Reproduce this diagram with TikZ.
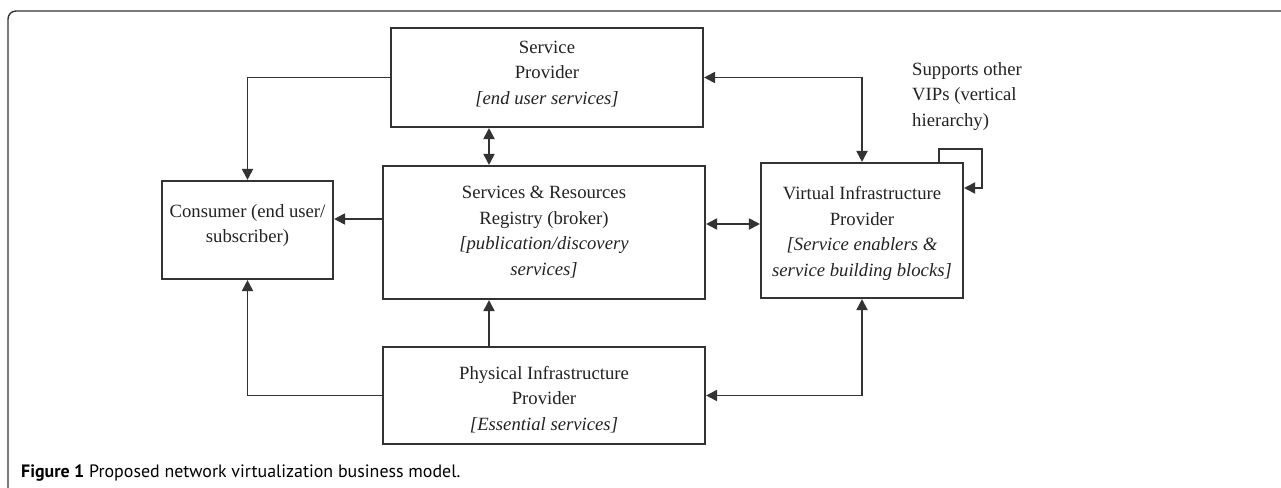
\documentclass[tikz,border=0pt]{standalone}
\usepackage{fontspec}
\setmainfont{Liberation Serif}
\newfontfamily\capfont{PT Sans}
\usetikzlibrary{arrows.meta,calc}
\definecolor{ln}{HTML}{333333}
\definecolor{tx}{HTML}{222222}
\begin{document}
\begin{tikzpicture}[x=1pt,y=-1pt,
  box/.style={draw=ln,line width=2.1pt,rectangle,inner sep=0pt},
  txt/.style={align=center,text=tx,inner sep=0pt,font=\fontsize{18.7}{25.5}\selectfont},
  conn/.style={draw=ln,line width=1.9pt,-{Triangle[length=11pt,width=11pt]}},
  dconn/.style={draw=ln,line width=1.9pt,{Triangle[length=11pt,width=11pt]}-{Triangle[length=11pt,width=11pt]}},
  note/.style={align=left,text=tx,inner sep=0pt,font=\fontsize{18.7}{25.5}\selectfont},
  frame/.style={draw=ln,line width=1.4pt,rounded corners=8pt}]
\useasboundingbox (0,0) rectangle (1281,487);
\draw[frame] (8,500) -- (8,11) -- (1300,11);

\node[box,minimum width=312pt,minimum height=99pt] (sp) at (547,77.5) {};
\node[txt] (spt) at (547,74) {Service\\Provider\\\textit{[end user services]}};
\node[box,minimum width=171pt,minimum height=98pt] (cons) at (247.5,230) {};
\node[txt] (const) at (247.5,225.5) {Consumer (end user/\\subscriber)};
\node[box,minimum width=322pt,minimum height=133pt] (reg) at (544,232.5) {};
\node[txt] (regt) at (544,232) {Services \& Resources\\Registry (broker)\\\textit{[publication/discovery}\\\textit{services]}};
\node[box,minimum width=202pt,minimum height=135pt] (vip) at (862,230.5) {};
\node[txt] (vipt) at (862,233.5) {Virtual Infrastructure\\Provider\\\textit{[Service enablers \&}\\\textit{service building blocks]}};
\node[box,minimum width=322pt,minimum height=97pt] (pip) at (544,395.5) {};
\node[txt] (pipt) at (544,399.5) {Physical Infrastructure\\Provider\\\textit{[Essential services]}};
\node[note,anchor=north west] (lbl) at (912,62)
  {Supports other\\VIPs (vertical\\hierarchy)};

\coordinate (xa) at (489,0);
\coordinate (yr) at (0,219);
\coordinate (yv) at (0,224);
\coordinate (l1) at (939,149);
\coordinate (l2) at (982,149);
\coordinate (l3) at (982,188);

\draw[conn] (sp.west) -| (cons.north);
\draw[dconn] (sp.south -| xa) -- (reg.north -| xa);
\draw[dconn] (sp.east) -| (vip.north);
\draw[conn] (reg.west |- yr) -- (cons.east |- yr);
\draw[dconn] (reg.east |- yv) -- (vip.west |- yv);
\draw[conn] (pip.north -| xa) -- (reg.south -| xa);
\draw[conn] (pip.west) -| (cons.south);
\draw[dconn] (pip.east) -| (vip.south);
\draw[conn] (vip.north -| l1) -- (l1) -- (l2) -- (l3) -- (vip.east |- l3);

\node[anchor=base west,inner sep=0pt,text=black,font=\capfont\fontsize{17.9}{22}\selectfont] (cap) at (21,477)
  {\textbf{Figure 1} Proposed network virtualization business model.};
\end{tikzpicture}
\end{document}
